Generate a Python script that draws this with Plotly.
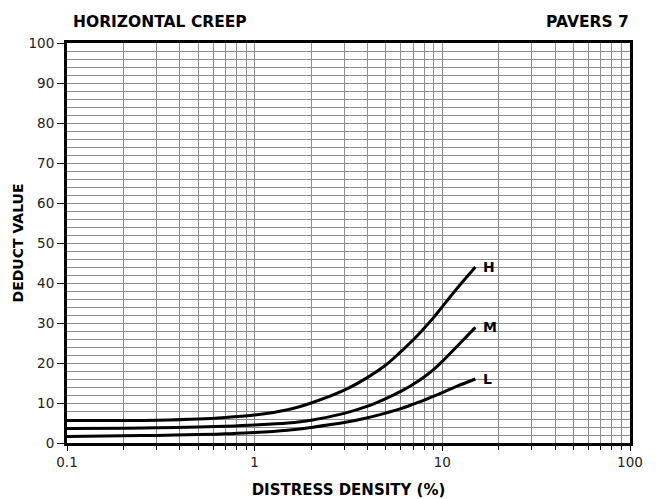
import plotly.graph_objects as go
import math

# ---- data ----
density = [0.1, 0.2, 0.3, 0.5, 0.7, 1, 1.5, 2, 3, 4, 5, 6, 7, 8, 9, 10, 12, 15]
deduct_H = [5.6, 5.6, 5.7, 6.0, 6.4, 7.0, 8.3, 10.0, 13.2, 16.4, 19.5, 22.8, 25.8, 28.7, 31.4, 34.1, 38.7, 44.0]
deduct_M = [3.6, 3.7, 3.8, 4.0, 4.2, 4.5, 5.0, 5.7, 7.4, 9.2, 11.1, 12.9, 14.7, 16.5, 18.4, 20.4, 24.2, 28.9]
deduct_L = [1.6, 1.8, 1.9, 2.1, 2.3, 2.6, 3.2, 3.9, 5.1, 6.3, 7.5, 8.6, 9.7, 10.7, 11.7, 12.6, 14.2, 16.0]
series_names = ["H", "M", "L"]
x_major_ticks = [0.1, 1, 10, 100]
x_major_labels = ["0.1", "1", "10", "100"]
x_minor_ticks = [m * d for d in (0.1, 1, 10) for m in range(2, 10)]
y_ticks = [0, 10, 20, 30, 40, 50, 60, 70, 80, 90, 100]

FONT = "DejaVu Sans"

fig = go.Figure()
for name, vals in zip(series_names, [deduct_H, deduct_M, deduct_L]):
    fig.add_trace(go.Scatter(
        x=density, y=vals, mode="lines", name=name,
        line=dict(color="black", width=3, shape="spline", smoothing=1.0),
        showlegend=False, hoverinfo="skip",
    ))
    fig.add_annotation(
        x=math.log10(density[-1]), y=vals[-1], xref="x", yref="y",
        text=f"<b>{name}</b>", showarrow=False, xanchor="left", yanchor="middle",
        xshift=6, font=dict(family=FONT, size=14, color="black"),
    )

fig.add_annotation(x=0, y=1, xref="paper", yref="paper", text="<b>HORIZONTAL CREEP</b>",
                   showarrow=False, xanchor="left", yanchor="middle", xshift=4, yshift=21,
                   font=dict(family=FONT, size=15.5, color="black"))
fig.add_annotation(x=1, y=1, xref="paper", yref="paper", text="<b>PAVERS 7</b>",
                   showarrow=False, xanchor="right", yanchor="middle", xshift=1, yshift=21,
                   font=dict(family=FONT, size=15.5, color="black"))

fig.update_layout(
    width=658, height=499,
    margin=dict(l=67, r=28, t=43, b=56),
    paper_bgcolor="white", plot_bgcolor="white",
    font=dict(family=FONT, size=13.5, color="#222"),
)
fig.update_xaxes(
    type="log", range=[-1, 2], automargin=False,
    tickvals=x_major_ticks, ticktext=x_major_labels,
    ticks="outside", ticklen=5, tickcolor="black", tickwidth=1,
    showgrid=True, gridcolor="#8c8c8c", gridwidth=1,
    minor=dict(tickvals=x_minor_ticks, showgrid=True, gridcolor="#8c8c8c", gridwidth=1,
               ticks="outside", ticklen=4, tickcolor="black"),
    showline=True, linecolor="black", linewidth=3, mirror=True,
    title=dict(text="<b>DISTRESS DENSITY (%)</b>", font=dict(family=FONT, size=15, color="black"), standoff=16),
    tickfont=dict(family=FONT, size=13.5, color="#222"),
    zeroline=False,
)
fig.update_yaxes(
    range=[0, 100], tickvals=y_ticks, automargin=False,
    ticks="outside", ticklen=7, tickcolor="black", tickwidth=1,
    showgrid=True, gridcolor="#8c8c8c", gridwidth=1,
    minor=dict(dtick=2, showgrid=True, gridcolor="#8c8c8c", gridwidth=1),
    showline=True, linecolor="black", linewidth=3, mirror=True,
    title=dict(text="<b>DEDUCT VALUE</b>", font=dict(family=FONT, size=14, color="black"), standoff=2),
    tickfont=dict(family=FONT, size=13.5, color="#222"),
    zeroline=False,
)

fig.write_html("out.html", config={"displayModeBar": False},
               post_script="document.body.style.margin='0';document.body.style.overflow='hidden';")
